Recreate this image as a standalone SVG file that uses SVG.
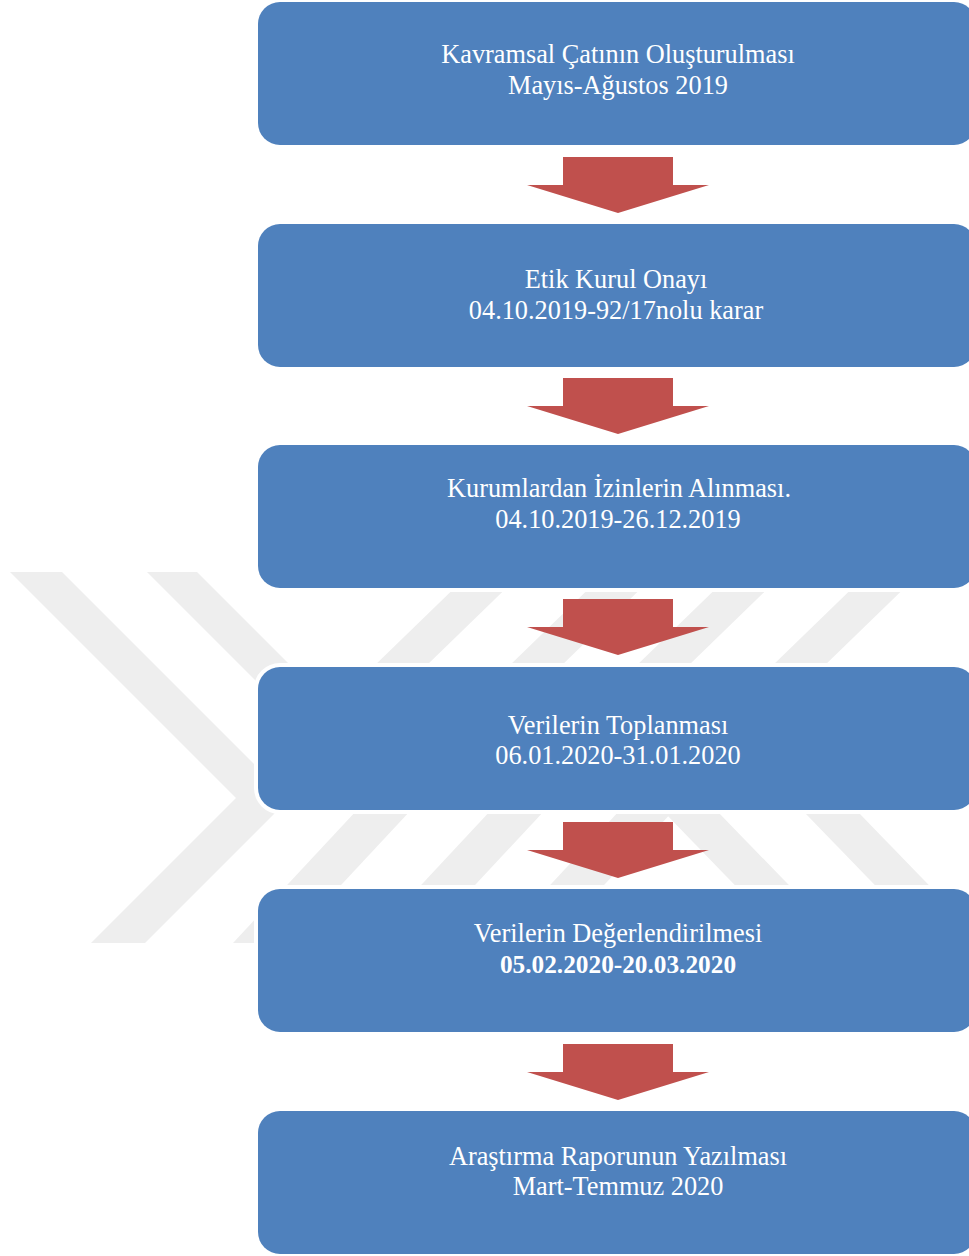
<svg xmlns="http://www.w3.org/2000/svg" width="969" height="1256" viewBox="0 0 969 1256">
<style>
.wm{fill:#eeeeee}
.box{fill:#4f81bd;stroke:#ffffff;stroke-width:8;paint-order:stroke}
.arr{fill:#c0504d}
.t{font-family:"Liberation Serif","Times New Roman",serif;font-size:26.3px;fill:#ffffff;text-anchor:middle}
.b{font-weight:bold;font-size:25.3px}
</style>
<rect width="969" height="1256" fill="#ffffff"/>
<g id="watermark">
<polygon class="wm" points="10,572 62,572 289,799 145,943 91,943 236,798"/>
<polygon class="wm" points="147,572 197,572 330,705 280,705"/>
<polygon class="wm" points="471,572 523,572 391,700 339,700"/>
<polygon class="wm" points="606,572 658,572 526,700 474,700"/>
<polygon class="wm" points="733,572 785,572 653,700 601,700"/>
<polygon class="wm" points="869,572 921,572 789,700 737,700"/>
<polygon class="wm" points="385,780 439,780 287,943 233,943"/>
<polygon class="wm" points="519,780 573,780 421,943 367,943"/>
<polygon class="wm" points="648,780 702,780 550,943 496,943"/>
<polygon class="wm" points="633,780 687,780 845,943 791,943"/>
<polygon class="wm" points="773,780 827,780 985,943 931,943"/>
</g>
<g id="connectors">
<polygon class="arr" points="563,157 673,157 673,185 709,185 618,213 527,185 563,185"/>
<polygon class="arr" points="563,378 673,378 673,406 709,406 618,434 527,406 563,406"/>
<polygon class="arr" points="563,599 673,599 673,627 709,627 618,655 527,627 563,627"/>
<polygon class="arr" points="563,822 673,822 673,850 709,850 618,878 527,850 563,850"/>
<polygon class="arr" points="563,1044 673,1044 673,1072 709,1072 618,1100 527,1072 563,1072"/>
</g>
<g id="node1">
<rect class="box" x="258" y="2" width="718" height="143" rx="22"/>
<text class="t" x="618" y="63">Kavramsal Çatının Oluşturulması</text>
<text class="t" x="618" y="94">Mayıs-Ağustos 2019</text>
</g>
<g id="node2">
<rect class="box" x="258" y="224" width="718" height="143" rx="22"/>
<text class="t" x="616" y="288">Etik Kurul Onayı</text>
<text class="t" x="616" y="319">04.10.2019-92/17nolu karar</text>
</g>
<g id="node3">
<rect class="box" x="258" y="445" width="718" height="143" rx="22"/>
<text class="t" x="619" y="497">Kurumlardan İzinlerin Alınması.</text>
<text class="t" x="618" y="528">04.10.2019-26.12.2019</text>
</g>
<g id="node4">
<rect class="box" x="258" y="667" width="718" height="143" rx="22"/>
<text class="t" x="618" y="734">Verilerin Toplanması</text>
<text class="t" x="618" y="764">06.01.2020-31.01.2020</text>
</g>
<g id="node5">
<rect class="box" x="258" y="889" width="718" height="143" rx="22"/>
<text class="t" x="618" y="942">Verilerin Değerlendirilmesi</text>
<text class="t b" x="618" y="973">05.02.2020-20.03.2020</text>
</g>
<g id="node6">
<rect class="box" x="258" y="1111" width="718" height="143" rx="22"/>
<text class="t" x="618" y="1165">Araştırma Raporunun Yazılması</text>
<text class="t" x="618" y="1195">Mart-Temmuz 2020</text>
</g>
</svg>
